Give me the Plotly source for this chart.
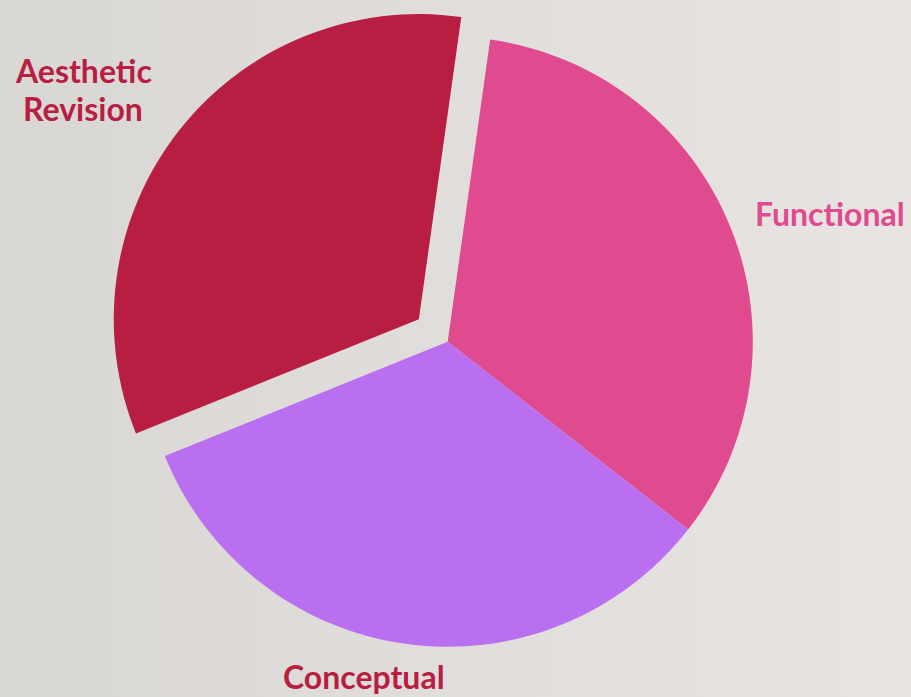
import plotly.graph_objects as go

# Slice data
labels = ["Functional", "Conceptual", "Aesthetic Revision"]
values = [1, 1, 1]
pulls = [0, 0, 0.12]
slice_colors = ["#e04a8f", "#b96ff0", "#b81e42"]
label_colors = ["#e04a8f", "#b81e42", "#b81e42"]

W, H = 911, 697
cx = 447.7 / W

# soft left-to-right background wash
bg_svg = (
    "data:image/svg+xml;utf8,"
    "<svg xmlns='http://www.w3.org/2000/svg' width='911' height='697'>"
    "<defs><linearGradient id='g' x1='0' y1='0' x2='1' y2='0'>"
    "<stop offset='0' stop-color='%23d9d7d3'/>"
    "<stop offset='1' stop-color='%23e7e4e1'/>"
    "</linearGradient></defs>"
    "<rect width='911' height='697' fill='url(%23g)'/></svg>"
)

fig = go.Figure(
    go.Pie(
        labels=labels,
        values=values,
        pull=pulls,
        sort=False,
        direction="clockwise",
        rotation=8,
        marker=dict(colors=slice_colors, line=dict(width=0)),
        textinfo="none",
        hoverinfo="label+percent",
        showlegend=False,
        domain=dict(x=[cx - 0.4, cx + 0.4], y=[1 - 2 * 341.7 / H, 1]),
    )
)

# Slice labels placed around the pie, one annotation per text line
label_pos = {
    "Functional": [(830, 213.5)],
    "Conceptual": [(363.7, 676)],
    "Aesthetic Revision": [(83.5, 70.2), (82.5, 108.2)],
}
for name, col in zip(labels, label_colors):
    words = [name] if len(label_pos[name]) == 1 else name.split(" ")
    for word, (px, py) in zip(words, label_pos[name]):
        fig.add_annotation(
            x=px / W, y=1 - py / H, xref="paper", yref="paper",
            text="<b>" + word + "</b>", showarrow=False,
            xanchor="center", yanchor="middle", align="center",
            font=dict(family="Lato", size=32, color=col),
        )

fig.add_layout_image(
    source=bg_svg, xref="paper", yref="paper", x=0, y=1,
    sizex=1, sizey=1, sizing="stretch", layer="below",
)

fig.update_layout(
    width=W, height=H,
    margin=dict(l=0, r=0, t=0, b=0),
    paper_bgcolor="#e2e0dc",
    plot_bgcolor="#e2e0dc",
)

fig.write_html("out.html")
